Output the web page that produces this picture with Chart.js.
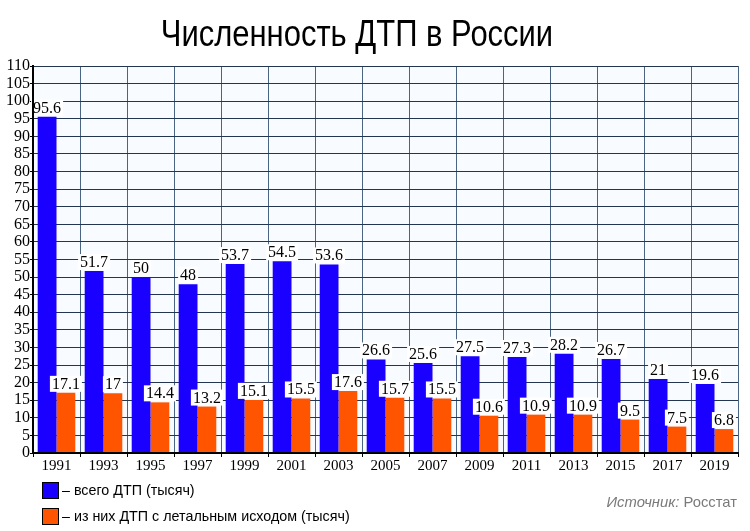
<!DOCTYPE html>
<html>
<head>
<meta charset="utf-8">
<script src="https://cdn.jsdelivr.net/npm/chart.js@4.4.1/dist/chart.umd.min.js"></script>
<style>
  html,body{margin:0;padding:0;background:#fff;}
  #wrap{position:relative;width:750px;height:531px;}
  #title{position:absolute;left:0;top:13px;width:714px;text-align:center;font-family:'Liberation Sans',Arial,sans-serif;font-size:36px;color:#000;white-space:nowrap;transform:scaleX(0.86);transform-origin:357px 0;}
  .leg{position:absolute;left:42px;font-family:'Liberation Sans',Arial,sans-serif;font-size:14.3px;color:#000;white-space:nowrap;}
  .leg span.box{display:inline-block;width:15px;height:15px;border:1px solid #000;vertical-align:middle;margin-right:3px;}
  .leg span.t{vertical-align:middle;}
  #src{position:absolute;right:13px;top:494px;font-family:'Liberation Sans',Arial,sans-serif;font-size:14.8px;color:#7a7a7a;white-space:nowrap;}
</style>
</head>
<body>
<div id="wrap">
  <canvas id="c" width="750" height="531"></canvas>
  <div id="title">Численность ДТП в России</div>
  <div class="leg" style="top:481px"><span class="box" style="background:#1a00ff"></span><span class="t">– всего ДТП (тысяч)</span></div>
  <div class="leg" style="top:507px"><span class="box" style="background:#ff5500"></span><span class="t">– из них ДТП с летальным исходом (тысяч)</span></div>
  <div id="src"><i>Источник:</i> Росстат</div>
</div>
<script>
const years = ['1991','1993','1995','1997','1999','2001','2003','2005','2007','2009','2011','2013','2015','2017','2019'];
const totalAccidents = [95.6, 51.7, 50, 48, 53.7, 54.5, 53.6, 26.6, 25.6, 27.5, 27.3, 28.2, 26.7, 21, 19.6];
const fatalAccidents = [17.1, 17, 14.4, 13.2, 15.1, 15.5, 17.6, 15.7, 15.5, 10.6, 10.9, 10.9, 9.5, 7.5, 6.8];
const seriesNames = ['всего ДТП (тысяч)', 'из них ДТП с летальным исходом (тысяч)'];

const serif = "'Liberation Serif','Times New Roman',serif";

const bgPlugin = {
  id: 'bg',
  beforeDraw(chart) {
    const {ctx, chartArea: a} = chart;
    ctx.save();
    ctx.fillStyle = '#f8fbff';
    ctx.fillRect(a.left, a.top, a.right - a.left, a.bottom - a.top);
    ctx.restore();
  }
};

const labelPlugin = {
  id: 'vlabels',
  afterDatasetsDraw(chart) {
    const ctx = chart.ctx;
    ctx.save();
    ctx.font = '16px ' + serif;
    ctx.textAlign = 'center';
    ctx.textBaseline = 'alphabetic';
    chart.data.datasets.forEach((ds, di) => {
      const meta = chart.getDatasetMeta(di);
      meta.data.forEach((bar, i) => {
        const txt = String(ds.data[i]);
        const w = ctx.measureText(txt).width;
        const bottom = bar.y - 1;
        ctx.fillStyle = '#ffffff';
        ctx.fillRect(bar.x - w / 2 - 2, bottom - 16, w + 4, 16);
        ctx.fillStyle = '#000';
        ctx.fillText(txt, bar.x, bottom - 3);
      });
    });
    ctx.restore();
  }
};

new Chart(document.getElementById('c'), {
  type: 'bar',
  data: {
    labels: years,
    datasets: [
      {label: seriesNames[0], data: totalAccidents, backgroundColor: '#1a00ff', categoryPercentage: 0.8, barPercentage: 1.0},
      {label: seriesNames[1], data: fatalAccidents, backgroundColor: '#ff5500', categoryPercentage: 0.8, barPercentage: 1.0}
    ]
  },
  options: {
    responsive: false,
    animation: false,
    devicePixelRatio: 1,
    layout: {padding: {left: 0, right: 12, top: 66, bottom: 0}},
    plugins: {legend: {display: false}, title: {display: false}, tooltip: {enabled: false}},
    scales: {
      x: {
        offset: true,
        grid: {offset: true, color: '#4a6583', lineWidth: 1, tickLength: 4, tickColor: '#000'},
        border: {color: '#000', width: 2, z: 1},
        ticks: {font: {family: serif, size: 15}, color: '#000', padding: 0, maxRotation: 0, autoSkip: false},
        afterFit(s) { s.height = 78; }
      },
      y: {
        min: 0, max: 110,
        grid: {color: '#24354f', lineWidth: 1, tickLength: 3, tickColor: '#000'},
        border: {color: '#000', width: 2, z: 1},
        ticks: {stepSize: 5, font: {family: serif, size: 16}, color: '#000', padding: 0, autoSkip: false},
        afterFit(s) { s.width = 33; }
      }
    }
  },
  plugins: [bgPlugin, labelPlugin]
});
</script>
</body>
</html>
